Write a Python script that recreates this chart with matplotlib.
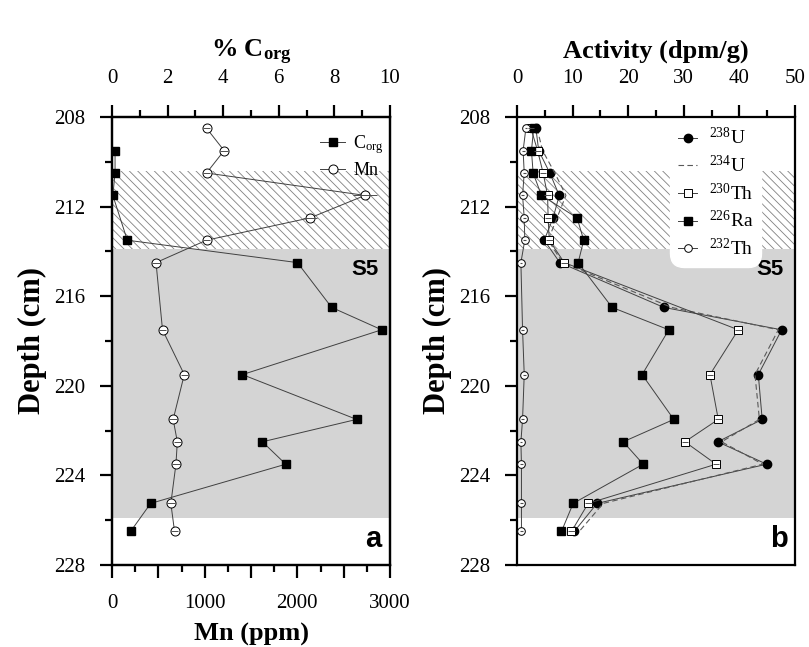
import matplotlib
matplotlib.use("Agg")
import matplotlib.pyplot as plt
from matplotlib.ticker import MultipleLocator, FuncFormatter

plt.rcParams["font.family"] = ["Liberation Serif", "DejaVu Serif"]
plt.rcParams["mathtext.fontset"] = "custom"
plt.rcParams["mathtext.rm"] = "Liberation Serif"
plt.rcParams["mathtext.it"] = "Liberation Serif:italic"
plt.rcParams["mathtext.bf"] = "Liberation Serif:bold"
plt.rcParams["hatch.linewidth"] = 0.6

# ---- panel a: organic carbon and manganese ----
mn_depth = [208.5, 209.5, 210.5, 211.5, 212.5, 213.5, 214.5, 217.5, 219.5,
            221.5, 222.5, 223.5, 225.25, 226.5]
mn_ppm = [1020, 1210, 1020, 2730, 2140, 1020, 475, 545, 780,
          660, 705, 690, 635, 675]
mn_err = [40, 40, 40, 130, 75, 40, 40, 40, 40, 40, 40, 40, 40, 40]

corg_depth = [209.5, 210.5, 211.5, 213.5, 214.5, 216.5, 217.5, 219.5,
              221.5, 222.5, 223.5, 225.25, 226.5]
corg_pct = [0.11, 0.11, 0.03, 0.55, 6.67, 7.9, 9.7, 4.69,
            8.8, 5.41, 6.25, 1.39, 0.67]

# ---- panel b: U-series activities ----
act_depth = [208.5, 209.5, 210.5, 211.5, 212.5, 213.5, 214.5, 216.5, 217.5,
             219.5, 221.5, 222.5, 223.5, 225.25, 226.5]
u238 = [3.4, 3.9, 5.9, 7.6, 6.5, 4.9, 7.7, 26.4, 47.6,
        43.4, 44.1, 36.1, 44.9, 14.4, 10.3]
u234 = [3.6, 4.6, 6.8, 8.8, 7.2, 5.6, 8.2, 27.8, 47.0,
        42.8, 43.6, 36.8, 44.2, 15.5, 11.2]
ra226 = [3.0, 2.6, 2.9, 4.4, 10.8, 12.0, 11.0, 17.1, 27.3,
         22.5, 28.2, 19.1, 22.7, 10.1, 8.0]

th_depth = [208.5, 209.5, 210.5, 211.5, 212.5, 213.5, 214.5, 217.5,
            219.5, 221.5, 222.5, 223.5, 225.25, 226.5]
th230 = [2.5, 3.7, 4.7, 5.5, 5.6, 5.8, 8.5, 39.8,
         34.7, 36.2, 30.2, 35.8, 12.8, 9.8]
th230_err = [0.6] * len(th230)
th232 = [1.6, 1.1, 1.3, 1.0, 1.3, 1.4, 0.7, 1.0,
         1.3, 1.0, 0.7, 0.8, 0.8, 0.8]
th232_err = [0.25] * len(th232)

# sapropel S5 and the oxidised zone above it
s5_top, s5_bottom = 213.9, 225.9
ox_top = 210.4

LINE = dict(color="0.25", lw=0.7)
SPINE_W = 1.6

fig = plt.figure(figsize=(8.09, 6.47), dpi=100)
W, H = 809, 647
axa = fig.add_axes([112 / W, 1 - 565 / H, 278 / W, 448 / H])
axb = fig.add_axes([517 / W, 1 - 565 / H, 278 / W, 448 / H])


def depth_axis(ax):
    ax.set_ylim(228, 208)
    ax.yaxis.set_major_locator(MultipleLocator(4))
    ax.yaxis.set_minor_locator(MultipleLocator(2))
    ax.tick_params(axis="y", which="major", direction="out", length=9,
                   width=SPINE_W, labelsize=15, pad=10)
    ax.tick_params(axis="y", which="minor", direction="out", length=5,
                   width=SPINE_W)
    for s in ax.spines.values():
        s.set_linewidth(SPINE_W)
    ax.axhspan(s5_top, s5_bottom, color="#d4d4d4", lw=0, zorder=0)
    ax.axhspan(ox_top, s5_top, facecolor="none", edgecolor="0.5",
               hatch="\\\\\\\\", lw=0, zorder=0)
    ax.text(0.96, 215.05, "S5", transform=ax.get_yaxis_transform(),
            ha="right", va="baseline", family="Liberation Sans",
            weight="bold", size=16)
    ax.set_ylabel("Depth (cm)", weight="bold", size=22, labelpad=5)


# panel a
depth_axis(axa)
axa.set_xlim(0, 3000)
axa.xaxis.set_major_locator(MultipleLocator(500))
axa.xaxis.set_minor_locator(MultipleLocator(250))
axa.xaxis.set_major_formatter(
    FuncFormatter(lambda v, p: f"{v:.0f}" if v % 1000 == 0 else ""))
axa.tick_params(axis="x", which="major", direction="out", length=9,
                width=SPINE_W, labelsize=15, pad=12)
axa.tick_params(axis="x", which="minor", direction="out", length=5,
                width=SPINE_W)
axa.set_xlabel("Mn (ppm)", weight="bold", size=19, labelpad=7)

mn_line, = axa.plot(mn_ppm, mn_depth, marker="o", ms=6.5, mfc="white",
                    mec="black", mew=0.7, **LINE, zorder=3)
axa.errorbar(mn_ppm, mn_depth, xerr=mn_err, fmt="none", ecolor="0.3",
             elinewidth=0.7, capsize=0, zorder=4)

axt = axa.twiny()
axt.set_xlim(0, 10)
axt.xaxis.set_major_locator(MultipleLocator(2))
axt.xaxis.set_minor_locator(MultipleLocator(1))
axt.tick_params(axis="x", which="major", direction="out", length=9,
                width=SPINE_W, labelsize=15, pad=12)
axt.tick_params(axis="x", which="minor", direction="out", length=5,
                width=SPINE_W)
for s in axt.spines.values():
    s.set_linewidth(SPINE_W)
corg_line, = axt.plot(corg_pct, corg_depth, marker="s", ms=6, mfc="black",
                      mec="black", **LINE, zorder=3)
axt.set_xlabel(r"% C$_{\mathbf{org}}$", weight="bold", size=19, labelpad=8)

axt.legend([corg_line, mn_line], [r"C$_{\mathrm{org}}$", "Mn"],
           loc="upper left", bbox_to_anchor=(0.69, 1.0), frameon=False,
           fontsize=13, handlelength=1.4, handletextpad=0.45,
           labelspacing=0.35, borderpad=0.4)
axa.text(0.97, 227.2, "a", transform=axa.get_yaxis_transform(), ha="right",
         va="baseline", family="Liberation Sans", weight="bold", size=21)

# panel b
depth_axis(axb)
axb.set_xlim(0, 50)
axb.xaxis.set_major_locator(MultipleLocator(10))
axb.xaxis.set_minor_locator(MultipleLocator(5))
axb.xaxis.set_ticks_position("top")
axb.xaxis.set_label_position("top")
axb.tick_params(axis="x", which="major", direction="out", length=9,
                width=SPINE_W, labelsize=15, pad=12, bottom=False,
                labelbottom=False, top=True, labeltop=True)
axb.tick_params(axis="x", which="minor", direction="out", length=5,
                width=SPINE_W, bottom=False, top=True)
axb.set_xlabel("Activity (dpm/g)", weight="bold", size=19, labelpad=8)

h_u238, = axb.plot(u238, act_depth, marker="o", ms=6, mfc="black",
                   mec="black", **LINE, zorder=3)
h_u234, = axb.plot(u234, act_depth, color="0.35", lw=0.8,
                   dashes=(5, 3), zorder=3)
h_th230, = axb.plot(th230, th_depth, marker="s", ms=6, mfc="white",
                    mec="black", mew=0.7, **LINE, zorder=3)
axb.errorbar(th230, th_depth, xerr=th230_err, fmt="none", ecolor="0.3",
             elinewidth=0.7, capsize=0, zorder=4)
h_ra226, = axb.plot(ra226, act_depth, marker="s", ms=5.5, mfc="black",
                    mec="black", **LINE, zorder=3)
h_th232, = axb.plot(th232, th_depth, marker="o", ms=5.5, mfc="white",
                    mec="black", mew=0.7, **LINE, zorder=3)
axb.errorbar(th232, th_depth, xerr=th232_err, fmt="none", ecolor="0.3",
             elinewidth=0.8, capsize=0, zorder=4)

leg = axb.legend([h_u238, h_u234, h_th230, h_ra226, h_th232],
                 [r"$^{238}$U", r"$^{234}$U", r"$^{230}$Th",
                  r"$^{226}$Ra", r"$^{232}$Th"],
                 loc="lower left", bbox_to_anchor=(0.558, 0.67),
                 fontsize=14, handlelength=1.0, handletextpad=0.6,
                 labelspacing=0.33, borderpad=0.3, borderaxespad=0,
                 fancybox=True, framealpha=1, edgecolor="white")
leg.get_frame().set_boxstyle("round", pad=0.1, rounding_size=0.7)
axb.text(0.975, 227.2, "b", transform=axb.get_yaxis_transform(), ha="right",
         va="baseline", family="Liberation Sans", weight="bold", size=21)

fig.savefig("out.png", dpi=100)
